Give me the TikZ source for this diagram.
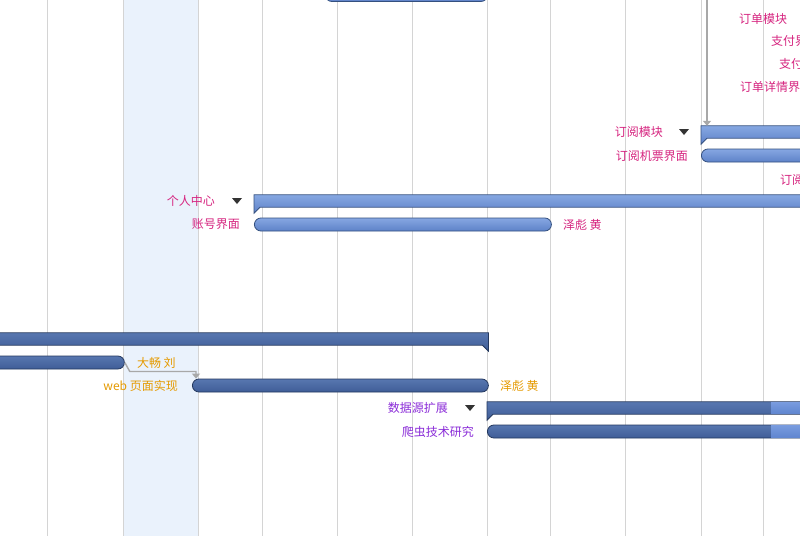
\documentclass[tikz,border=0pt]{standalone}
\usepackage{fontspec}
\setmainfont{Noto Sans CJK SC}
\usetikzlibrary{arrows.meta,positioning}
\definecolor{pinktxt}{HTML}{D6247F}
\definecolor{orgtxt}{HTML}{E59A00}
\definecolor{purtxt}{HTML}{8A2BD8}
\definecolor{gridln}{HTML}{D4D4D4}
\definecolor{hilite}{HTML}{EAF2FC}
\definecolor{linkgray}{HTML}{A8A8A8}
\definecolor{lighttop}{HTML}{86A7E2}
\definecolor{lightbot}{HTML}{5E82C8}
\definecolor{lightedge}{HTML}{34507F}
\definecolor{darktop}{HTML}{5877B0}
\definecolor{darkbot}{HTML}{3F5D97}
\definecolor{darkedge}{HTML}{24385E}
\definecolor{progtop}{HTML}{789BDE}
\definecolor{progbot}{HTML}{6086D0}

\begin{document}
\begin{tikzpicture}[x=1pt, y=-1pt,
	every node/.style={font=\fontsize{12pt}{14pt}\selectfont, inner sep=0pt},
	lightbar/.style={draw=lightedge, line width=0.8pt, top color=lighttop, bottom color=lightbot},
	darkbar/.style={draw=darkedge, line width=0.8pt, top color=darktop, bottom color=darkbot},
	taskbox/.style={rectangle, rounded corners=6.5pt, minimum height=13pt, anchor=west},
	sumbox/.style={rectangle, minimum height=12pt, anchor=west},
	pk/.style={text=pinktxt},
	og/.style={text=orgtxt},
	pu/.style={text=purtxt},
	collapse/.style={fill=black!80},
	link/.style={draw=linkgray, line width=1.4pt, -{Triangle[width=8pt,length=5pt]}}]
	\useasboundingbox (0,0) rectangle (800,536);
	\clip (0,0) rectangle (800,536);
	\fill[white] (0,0) rectangle (800,536);
	% today column and grid
	\fill[hilite] (123,0) rectangle (198,536);
	\foreach \gx in {47,123,198,262,337,412,487,550,625,701,763}
		\draw[gridln, line width=0.8pt] (\gx,0) -- (\gx,536);

	% summary rows (drawn from their anchors)
	\node[sumbox, minimum width=160pt] (s1) at (701,132) {};
	\node[sumbox, minimum width=606pt] (s2) at (254,201) {};
	\node[sumbox, minimum width=508pt] (s3) at (-20,339) {};
	\node[sumbox, minimum width=373pt] (s4) at (487,408) {};
	\draw[lightbar] (s1.north west) -- (s1.north east) -- (s1.south east) -- ([xshift=6pt]s1.south west) -- ([yshift=-6pt]s1.south west) -- cycle;
	\draw[lightbar] (s2.north west) -- (s2.north east) -- (s2.south east) -- ([xshift=6pt]s2.south west) -- ([yshift=-6pt]s2.south west) -- cycle;
	\draw[darkbar] (s4.north west) -- (s4.north east) -- (s4.south east) -- ([xshift=6pt]s4.south west) -- ([yshift=-6pt]s4.south west) -- cycle;
	\draw[darkbar] (s3.north west) -- (s3.north east) -- ([yshift=-6pt]s3.south east) -- ([xshift=-6pt]s3.south east) -- (s3.south west) -- cycle;
	\foreach \s in {s1,s2,s4}
		\fill[collapse] ([xshift=-22pt,yshift=3pt]\s.west) -- ++(10,0) -- ++(-5,6) -- cycle;

	% task bars
	\node[taskbox, lightbar, minimum width=162pt] (b0) at (325,-5) {};
	\node[taskbox, lightbar, minimum width=160pt] (b1) at (701,155.5) {};
	\node[taskbox, lightbar, minimum width=297pt] (b2) at (254,224.5) {};
	\node[taskbox, darkbar, minimum width=164pt] (b3) at (-40,362.5) {};
	\node[taskbox, darkbar, minimum width=296pt] (b4) at (192,385.5) {};
	\node[taskbox, darkbar, minimum width=373pt] (b5) at (487,431.5) {};
	% progress part
	\fill[top color=progtop, bottom color=progbot] (771,402.7) rectangle (805,413.3);
	\fill[top color=progtop, bottom color=progbot] (771,425.7) rectangle (805,437.3);

	% labels
	\node[pk, anchor=west] (t1) at (739,19) {订单模块};
	\node[pk, anchor=west] (t2) at (771,41) {支付界};
	\node[pk, anchor=west] (t3) at (779,64) {支付};
	\node[pk, anchor=west] (t4) at (740,87) {订单详情界};
	\node[pk, anchor=west] (t5) at (780,180) {订阅};
	\node[pk, left=38pt of s1] (l1) {订阅模块};
	\node[pk, left=13pt of b1] (l2) {订阅机票界面};
	\node[pk, left=39pt of s2] (l3) {个人中心};
	\node[pk, left=14pt of b2] (l4) {账号界面};
	\node[pk, right=11pt of b2] (r2) {泽彪 黄};
	\node[og, right=12pt of b3] (r3) {大畅 刘};
	\node[og, left=14pt of b4] (l6) {web 页面实现};
	\node[og, right=11pt of b4] (r4) {泽彪 黄};
	\node[pu, left=39pt of s4] (l7) {数据源扩展};
	\node[pu, left=13pt of b5] (l8) {爬虫技术研究};

	% dependencies
	\coordinate (up) at (707,-5);
	\draw[link, line width=2.2pt] (up) -- (up |- s1.north);
	\draw[link] (b3.east) -- ++(5,9) -| ([xshift=4pt]b4.north west);
\end{tikzpicture}
\end{document}
